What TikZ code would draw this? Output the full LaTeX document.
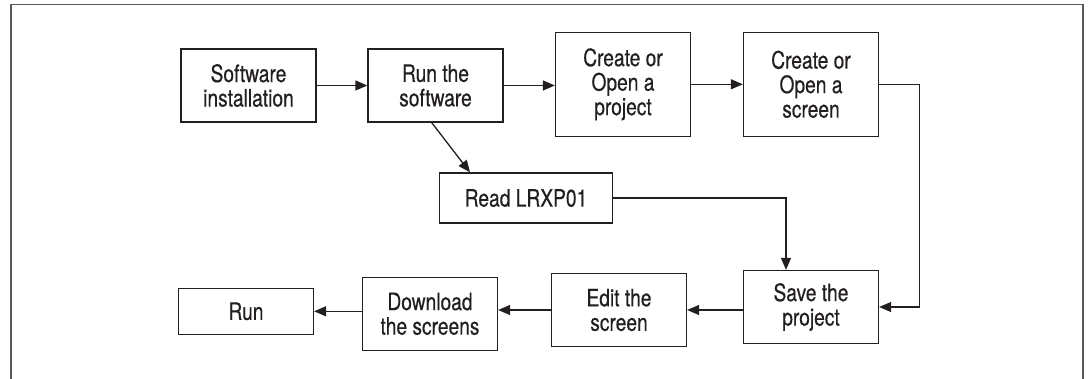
\documentclass[tikz,border=0pt]{standalone}
\usepackage{fontspec}
\setmainfont{TeX Gyre Heros}[FakeStretch=0.8,FakeBold=0.4]
\usetikzlibrary{arrows.meta}
\definecolor{ink}{HTML}{231F20}
\begin{document}
\begin{tikzpicture}[x=1pt,y=-1pt,
  stepbox/.style={draw=ink,line width=1.3pt,inner sep=0pt,text=ink,
    align=center,minimum width=135pt,minimum height=73pt,
    font=\fontsize{24}{24.5}\selectfont},
  flow/.style={draw=ink,line width=1.3pt,-{Triangle[length=12pt,width=10pt]}},
  frameline/.style={draw=black!65,line width=1.4pt}]
\useasboundingbox (0,0) rectangle (1090,379);
% outer frame, open at the bottom
\draw[frameline] (11,379) -- (11,4.5) -- (1083,4.5) -- (1083,379);
% steps
\node[stepbox] (si) at (248.5,85.5) {Software\\installation};
\node[stepbox] (rs) at (435.5,85.5) {Run the\\software};
\node[stepbox,minimum height=104pt] (cop) at (623,84.3) {Create or\\Open a\\project};
\node[stepbox,minimum height=104pt] (cos) at (811,84.3) {Create or\\Open a\\screen};
\node[stepbox,minimum width=173.5pt,minimum height=50pt] (rd) at (526,198) {Read LRXP01};
\node[stepbox] (sp) at (811,307) {Save the\\project};
\node[stepbox] (ed) at (619,310) {Edit the\\screen};
\node[stepbox] (dl) at (430,313.8) {Download\\the screens};
\node[stepbox,minimum height=46pt] (rn) at (246,311.3) {Run};
% connectors
\draw[flow] (si.east) -- (rs.west);
\draw[flow] (rs.east) -- (rs.east -| cop.west);
\draw[flow] (cop.east) -- (cos.west);
\draw[flow] (cos.east) -- ++(40,0) |- (sp.east);
\draw[flow] ([xshift=-3.8pt]rs.south) -- ([xshift=-56pt]rd.north);
\draw[flow] (rd.east) -| ([xshift=-25pt]sp.north);
\draw[flow] (sp.west |- ed.east) -- (ed.east);
\draw[flow] (ed.west) -- (ed.west -| dl.east);
\draw[flow] (dl.west |- rn.east) -- (rn.east);
\end{tikzpicture}
\end{document}
